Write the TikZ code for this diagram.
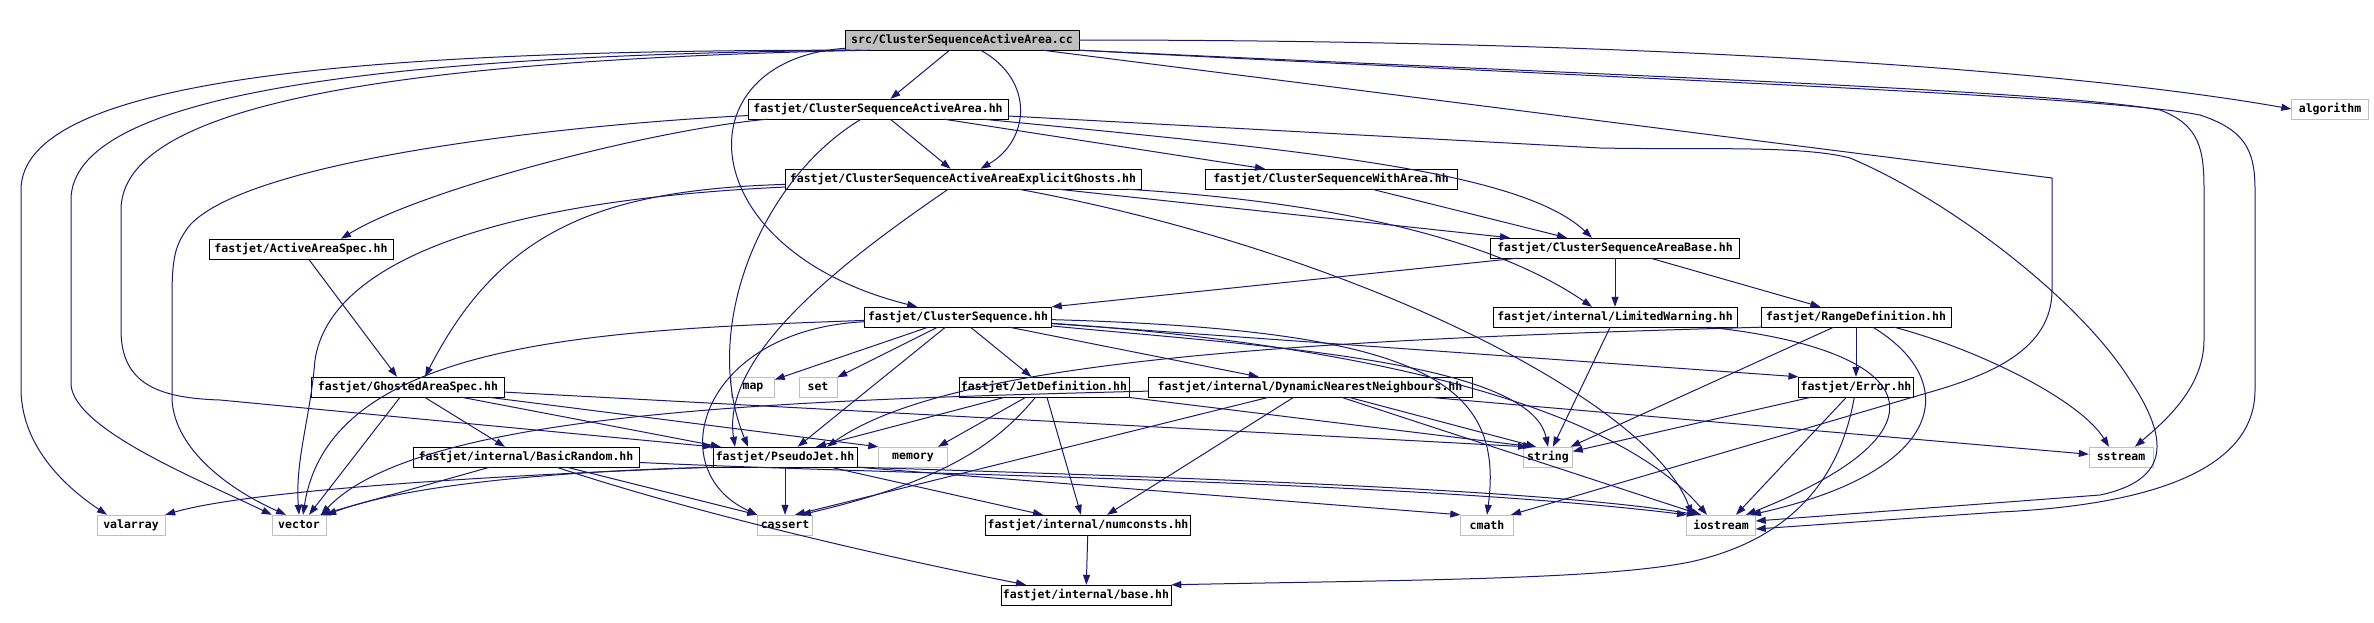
\documentclass[tikz,border=0pt]{standalone}
\usepackage{fontspec}
\usetikzlibrary{arrows.meta}
\newfontfamily\graphfont{DejaVu Sans Mono}
\definecolor{edgeblue}{RGB}{25,25,112}
\definecolor{sysgray}{RGB}{191,191,191}
\begin{document}
\begin{tikzpicture}[x=1pt,y=-1pt,
  hdr/.style={draw=black, fill=white, inner sep=2pt, minimum height=20pt, font={\graphfont\bfseries\fontsize{11.5pt}{13pt}\selectfont}},
  sys/.style={hdr, draw=sysgray},
  dep/.style={draw=edgeblue, line width=1pt, -{Triangle[length=10pt,width=7pt]}}]
\useasboundingbox (0,0) rectangle (2374,622);

\node[hdr, fill=sysgray, minimum width=234pt] (src) at (962,40) {src/ClusterSequenceActiveArea.cc};
\node[hdr, minimum width=260pt] (csaa) at (878,109) {fastjet/ClusterSequenceActiveArea.hh};
\node[hdr, minimum width=356pt] (csaaeg) at (963,179) {fastjet/ClusterSequenceActiveAreaExplicitGhosts.hh};
\node[hdr, minimum width=252pt] (witharea) at (1331,179) {fastjet/ClusterSequenceWithArea.hh};
\node[hdr, minimum width=184pt] (activespec) at (301,249) {fastjet/ActiveAreaSpec.hh};
\node[hdr, minimum width=249pt] (areabase) at (1615,248) {fastjet/ClusterSequenceAreaBase.hh};
\node[hdr, minimum width=187pt] (cs) at (958,317) {fastjet/ClusterSequence.hh};
\node[hdr, minimum width=244pt] (limwarn) at (1615,317) {fastjet/internal/LimitedWarning.hh};
\node[hdr, minimum width=190pt] (rangedef) at (1856,317) {fastjet/RangeDefinition.hh};
\node[hdr, minimum width=193pt] (ghostspec) at (408,387) {fastjet/GhostedAreaSpec.hh};
\node[sys, minimum width=43pt] (map) at (753,387) {map};
\node[sys, minimum width=38pt] (set) at (818,387) {set};
\node[hdr, minimum width=164pt] (jetdef) at (1044,387) {fastjet/JetDefinition.hh};
\node[hdr, minimum width=324pt] (dnn) at (1310,387) {fastjet/internal/DynamicNearestNeighbours.hh};
\node[hdr, minimum width=113pt] (error) at (1856,387) {fastjet/Error.hh};
\node[hdr, minimum width=226pt] (basicrand) at (526,457) {fastjet/internal/BasicRandom.hh};
\node[hdr, minimum width=144pt] (pseudojet) at (785,457) {fastjet/PseudoJet.hh};
\node[sys, minimum width=69pt] (memory) at (913,457) {memory};
\node[sys, minimum width=49pt] (string) at (1548,457) {string};
\node[sys, minimum width=64pt] (sstream) at (2121,457) {sstream};
\node[sys, minimum width=68pt] (valarray) at (131,525) {valarray};
\node[sys, minimum width=54pt] (vector) at (299,525) {vector};
\node[sys, minimum width=55pt] (cassert) at (785,525) {cassert};
\node[hdr, minimum width=204pt] (numconsts) at (1088,525) {fastjet/internal/numconsts.hh};
\node[sys, minimum width=53pt] (cmath) at (1487,525) {cmath};
\node[sys, minimum width=69pt] (iostream) at (1721,525) {iostream};
\node[hdr, minimum width=163pt] (base) at (1086,595) {fastjet/internal/base.hh};
\node[sys, minimum width=77pt] (algorithm) at (2330,109) {algorithm};

% src/ClusterSequenceActiveArea.cc
\path[draw,dep] (src) -- (csaa);
\path[draw,dep] (src) .. controls (1035,80) and (1030,140) .. (csaaeg);
\path[draw,dep] (src) .. controls (680,60) and (690,250) .. (cs);
\path[draw,dep] ([xshift=5pt]src.south west) .. controls (350,50) and (21,80) .. (21,190) -- (21,390) .. controls (22,450) and (70,490) .. ([xshift=-24pt]valarray.north);
\path[draw,dep] ([xshift=15pt]src.south west) .. controls (370,55) and (71,95) .. (71,200) -- (71,385) .. controls (75,430) and (200,480) .. (vector.north west);
\path[draw,dep] ([xshift=25pt]src.south west) .. controls (390,60) and (121,105) .. (121,210) -- (121,330) .. controls (121,385) and (160,398) .. (220,400) -- (pseudojet.north west);
\path[draw,dep] (src.east) .. controls (1700,40) and (2100,75) .. (algorithm.west);
\path[draw,dep] (src.south east) .. controls (1600,75) and (2050,90) .. (2160,110) .. controls (2200,125) and (2204,150) .. (2204,190) -- (2204,340) .. controls (2204,390) and (2160,425) .. ([xshift=14pt]sstream.north);
\path[draw,dep] (src.south east) .. controls (1600,78) and (2100,95) .. (2200,115) .. controls (2245,130) and (2255,150) .. (2255,190) -- (2255,390) .. controls (2255,470) and (2150,505) .. (2000,512) -- ([yshift=-4pt]iostream.east);
\path[draw,dep] (src) -- (2052,178) -- (2052,290) .. controls (2052,350) and (1990,375) .. (1927,393) -- ([xshift=24pt]cmath.north);

% fastjet/ClusterSequenceActiveArea.hh
\path[draw,dep] (csaa) -- (csaaeg);
\path[draw,dep] (csaa) -- (witharea);
\path[draw,dep] (csaa) .. controls (1300,150) and (1520,170) .. ([xshift=-23pt]areabase.north);
\path[draw,dep] (csaa) -- (1600,148) .. controls (1700,150) and (1800,145) .. (1850,158) .. controls (1950,200) and (2080,300) .. (2130,380) .. controls (2170,440) and (2170,480) .. (2100,495) -- ([yshift=4pt]iostream.east);
\path[draw,dep] (csaa) .. controls (650,130) and (420,190) .. ([xshift=40pt]activespec.north);
\path[draw,dep] (csaa) .. controls (560,125) and (250,160) .. (190,225) .. controls (174,245) and (172,260) .. (172,300) -- (172,400) .. controls (175,450) and (230,490) .. ([xshift=-13pt]vector.north);
\path[draw,dep] (csaa) .. controls (760,180) and (700,330) .. ([xshift=-37pt]pseudojet.north);

% fastjet/ClusterSequenceActiveAreaExplicitGhosts.hh
\path[draw,dep] (csaaeg) -- ([xshift=-105pt]areabase.north);
\path[draw,dep] (csaaeg) .. controls (1300,200) and (1480,230) .. ([xshift=-23pt]limwarn.north);
\path[draw,dep] (csaaeg) .. controls (1350,250) and (1650,400) .. ([xshift=-29pt]iostream.north);
\path[draw,dep] (csaaeg) .. controls (600,190) and (500,230) .. ([xshift=17pt]ghostspec.north);
\path[draw,dep] (csaaeg) .. controls (500,200) and (330,260) .. (315,360) .. controls (310,420) and (295,460) .. (vector.north);
\path[draw,dep] (csaaeg) .. controls (860,250) and (720,350) .. ([xshift=-50pt]pseudojet.north);

\path[draw,dep] (witharea) -- ([xshift=-48pt]areabase.north);
\path[draw,dep] (activespec) -- ([xshift=-11pt]ghostspec.north);

% fastjet/ClusterSequenceAreaBase.hh
\path[draw,dep] (areabase) -- (cs.north east);
\path[draw,dep] (areabase) -- (limwarn);
\path[draw,dep] (areabase) -- (rangedef);

% fastjet/ClusterSequence.hh
\path[draw,dep] (cs) -- (map);
\path[draw,dep] (cs) -- (set);
\path[draw,dep] (cs) -- (jetdef);
\path[draw,dep] (cs) -- (dnn);
\path[draw,dep] (cs) -- (pseudojet);
\path[draw,dep] (cs) -- (error.north west);
\path[draw,dep] (cs) .. controls (1250,345) and (1530,360) .. (string.north);
\path[draw,dep] (cs) .. controls (1300,340) and (1600,390) .. ([xshift=-14pt]iostream.north);
\path[draw,dep] (cs) .. controls (1420,330) and (1505,380) .. (cmath.north);
\path[draw,dep] (cs) .. controls (700,330) and (660,470) .. (cassert.north west);
\path[draw,dep] (cs) .. controls (600,330) and (330,340) .. ([xshift=4pt]vector.north);

% fastjet/internal/LimitedWarning.hh
\path[draw,dep] (limwarn) -- (string);
\path[draw,dep] (limwarn) .. controls (1920,350) and (1960,430) .. ([xshift=25pt]iostream.north);

% fastjet/RangeDefinition.hh
\path[draw,dep] (rangedef) -- (error);
\path[draw,dep] (rangedef) -- (string);
\path[draw,dep] (rangedef) .. controls (1980,350) and (2080,400) .. ([xshift=-12pt]sstream.north);
\path[draw,dep] (rangedef) .. controls (1960,380) and (1950,470) .. ([xshift=30pt]iostream.north);
\path[draw,dep] (rangedef.south west) .. controls (1300,340) and (950,360) .. ([xshift=42pt]pseudojet.north);

% fastjet/Error.hh
\path[draw,dep] (error) -- (string);
\path[draw,dep] (error) -- ([xshift=15pt]iostream.north);
\path[draw,dep] (error) .. controls (1840,480) and (1790,540) .. (1690,562) .. controls (1600,580) and (1400,580) .. (base.north east);

% fastjet/internal/DynamicNearestNeighbours.hh
\path[draw,dep] (dnn) -- ([xshift=10pt]cassert.north);
\path[draw,dep] (dnn) -- ([xshift=19pt]numconsts.north);
\path[draw,dep] (dnn) -- ([xshift=-12pt]string.north);
\path[draw,dep] (dnn) -- ([xshift=-20pt]iostream.north);
\path[draw,dep] (dnn) -- (sstream);
\path[draw,dep] (dnn) .. controls (800,400) and (420,410) .. ([xshift=22pt]vector.north);

% fastjet/JetDefinition.hh
\path[draw,dep] (jetdef) -- ([xshift=31pt]pseudojet.north);
\path[draw,dep] (jetdef) -- ([xshift=25pt]memory.north);
\path[draw,dep] (jetdef) .. controls (1000,440) and (950,480) .. ([xshift=16pt]cassert.north);
\path[draw,dep] (jetdef) -- ([xshift=-7pt]numconsts.north);
\path[draw,dep] (jetdef) -- ([xshift=-15pt]string.north);

% fastjet/GhostedAreaSpec.hh
\path[draw,dep] (ghostspec) -- ([xshift=10pt]vector.north);
\path[draw,dep] (ghostspec) -- ([xshift=-21pt]basicrand.north);
\path[draw,dep] (ghostspec) -- ([xshift=8pt]pseudojet.north west);
\path[draw,dep] (ghostspec) -- (memory.north west);
\path[draw,dep] (ghostspec) -- ([xshift=-20pt]string.north);

% fastjet/internal/BasicRandom.hh
\path[draw,dep] (basicrand) -- ([xshift=-6pt]vector.north east);
\path[draw,dep] (basicrand) -- (cassert.north west);
\path[draw,dep] (basicrand) .. controls (700,515) and (900,560) .. ([xshift=-60pt]base.north);
\path[draw,dep] (basicrand) .. controls (900,475) and (1400,480) .. ([xshift=-34pt]iostream.north);

% fastjet/PseudoJet.hh
\path[draw,dep] (pseudojet) -- (cassert);
\path[draw,dep] (pseudojet) -- ([xshift=-45pt]numconsts.north);
\path[draw,dep] (pseudojet.south east) -- (cmath.north west);
\path[draw,dep] (pseudojet.south east) .. controls (1200,478) and (1550,490) .. ([xshift=-24pt]iostream.north);
\path[draw,dep] (pseudojet.south west) .. controls (600,470) and (420,480) .. (vector.north east);
\path[draw,dep] (pseudojet.south west) .. controls (500,475) and (250,490) .. (valarray.north east);

\path[draw,dep] (numconsts) -- (base);
\end{tikzpicture}
\end{document}
